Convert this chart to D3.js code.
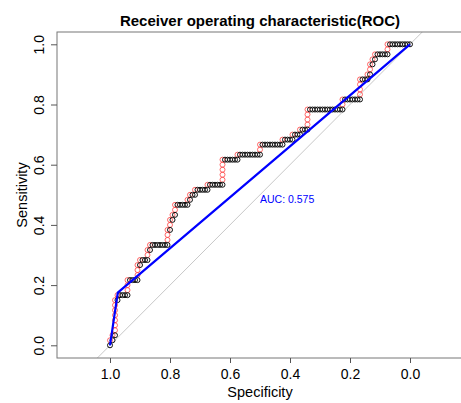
<!DOCTYPE html>
<html>
<head>
<meta charset="utf-8">
<script src="https://cdn.jsdelivr.net/npm/d3@7/dist/d3.min.js"></script>
<style>
body { margin: 0; background: #fff; }
svg { display: block; font-family: "Liberation Sans", Arial, sans-serif; }
</style>
</head>
<body>
<div id="chart"></div>
<script>
var titleText = "Receiver operating characteristic(ROC)";
var xTicks = [1.0, 0.8, 0.6, 0.4, 0.2, 0.0];
var yTicks = [0.0, 0.2, 0.4, 0.6, 0.8, 1.0];

// empirical curve, read off the picture: cases are 60 positives / 120 negatives,
// walked down the thresholds as alternating rises (positives) and runs (negatives)
var nPos = 60, nNeg = 120;
var rises = [1, 1, 7, 1, 3, 3, 1, 2, 1, 3, 2, 1, 2, 1, 1, 1, 1, 5, 1, 2, 1, 1, 1, 4, 2, 4, 1, 2, 1, 1, 2];
var runs  = [1, 1, 1, 4, 4, 1, 3, 1, 7, 1, 1, 1, 5, 1, 2, 5, 6, 6, 9, 9, 4, 3, 3, 14, 7, 3, 1, 1, 1, 5, 9];

// the blue curve (three points)
var fitSpec = [1, 0.974, 0];
var fitSens = [0, 0.175, 1];
var aucText = "AUC: 0.575";

var W = 461, H = 403;
var box = {left: 57, top: 32, right: 463, bottom: 358};

var svg = d3.select("#chart").append("svg")
    .attr("width", W)
    .attr("height", H);

var x = d3.scaleLinear().domain([1, 0]).range([110, 410]);
var y = d3.scaleLinear().domain([0, 1]).range([345.3, 44.3]);

// walk the steps into points
var pts = [{spec: 1, sens: 0, kind: "h"}];
var pos = 0, neg = 0;
for (var i = 0; i < rises.length; i++) {
    for (var k = 0; k < rises[i]; k++) {
        pos++;
        pts.push({spec: 1 - neg / nNeg, sens: pos / nPos, kind: "v"});
    }
    for (var k = 0; k < runs[i]; k++) {
        neg++;
        pts.push({spec: 1 - neg / nNeg, sens: pos / nPos, kind: "h"});
    }
}

svg.append("clipPath").attr("id", "plotclip")
  .append("rect")
    .attr("x", box.left).attr("y", box.top)
    .attr("width", box.right - box.left).attr("height", box.bottom - box.top);

var plot = svg.append("g").attr("clip-path", "url(#plotclip)");

// diagonal reference
plot.append("line")
    .attr("x1", x(1.3)).attr("y1", y(-0.3))
    .attr("x2", x(-0.3)).attr("y2", y(1.3))
    .attr("stroke", "#c8c8c8")
    .attr("stroke-width", 1);

// red points (rises)
plot.selectAll(".pv")
    .data(pts.filter(function(d) { return d.kind == "v"; }))
    .enter().append("circle")
    .attr("class", "pv")
    .attr("cx", function(d) { return x(d.spec); })
    .attr("cy", function(d) { return y(d.sens); })
    .attr("r", 2.5)
    .attr("fill", "none")
    .attr("stroke", "#ff3030")
    .attr("stroke-opacity", 0.8)
    .attr("stroke-width", 0.9);

// black points (runs)
plot.selectAll(".ph")
    .data(pts.filter(function(d) { return d.kind == "h"; }))
    .enter().append("circle")
    .attr("class", "ph")
    .attr("cx", function(d) { return x(d.spec); })
    .attr("cy", function(d) { return y(d.sens); })
    .attr("r", 2.5)
    .attr("fill", "none")
    .attr("stroke", "#111")
    .attr("stroke-width", 1);

// blue curve
var fit = fitSpec.map(function(s, i) { return [s, fitSens[i]]; });
plot.append("path")
    .datum(fit)
    .attr("d", d3.line().x(function(d) { return x(d[0]); }).y(function(d) { return y(d[1]); }))
    .attr("fill", "none")
    .attr("stroke", "#0000ff")
    .attr("stroke-width", 2.2);

svg.append("text")
    .attr("x", x(0.5))
    .attr("y", 202.5)
    .attr("fill", "#0000ff")
    .attr("font-size", "10.5px")
    .text(aucText);

// frame (right side falls off the picture)
svg.append("rect")
    .attr("x", box.left).attr("y", box.top)
    .attr("width", box.right - box.left).attr("height", box.bottom - box.top)
    .attr("fill", "none")
    .attr("stroke", "#777")
    .attr("stroke-width", 1);

var gx = svg.append("g")
    .attr("transform", "translate(0," + box.bottom + ")")
    .call(d3.axisBottom(x).tickValues(xTicks).tickFormat(d3.format(".1f"))
        .tickSize(5).tickSizeOuter(0).tickPadding(6));
gx.select(".domain").remove();
gx.selectAll("line").attr("stroke", "#555");
gx.selectAll("text")
    .attr("font-family", "Liberation Sans, Arial, sans-serif")
    .attr("font-size", "14px")
    .attr("fill", "#000");

var gy = svg.append("g")
    .attr("transform", "translate(" + box.left + ",0)")
    .call(d3.axisLeft(y).tickValues(yTicks).tickFormat(d3.format(".1f"))
        .tickSize(6).tickSizeOuter(0));
gy.select(".domain").remove();
gy.selectAll("line").attr("stroke", "#555");
gy.selectAll("text")
    .attr("x", null)
    .attr("dy", null)
    .attr("text-anchor", "middle")
    .attr("transform", "translate(-13,0) rotate(-90)")
    .attr("font-family", "Liberation Sans, Arial, sans-serif")
    .attr("font-size", "14px")
    .attr("fill", "#000");

svg.append("text")
    .attr("x", 260).attr("y", 397)
    .attr("text-anchor", "middle")
    .attr("font-size", "14.5px")
    .text("Specificity");

svg.append("text")
    .attr("transform", "translate(27,195) rotate(-90)")
    .attr("text-anchor", "middle")
    .attr("font-size", "14.5px")
    .text("Sensitivity");

svg.append("text")
    .attr("x", 260).attr("y", 26)
    .attr("text-anchor", "middle")
    .attr("font-size", "15px")
    .attr("font-weight", "bold")
    .text(titleText);
</script>
</body>
</html>
